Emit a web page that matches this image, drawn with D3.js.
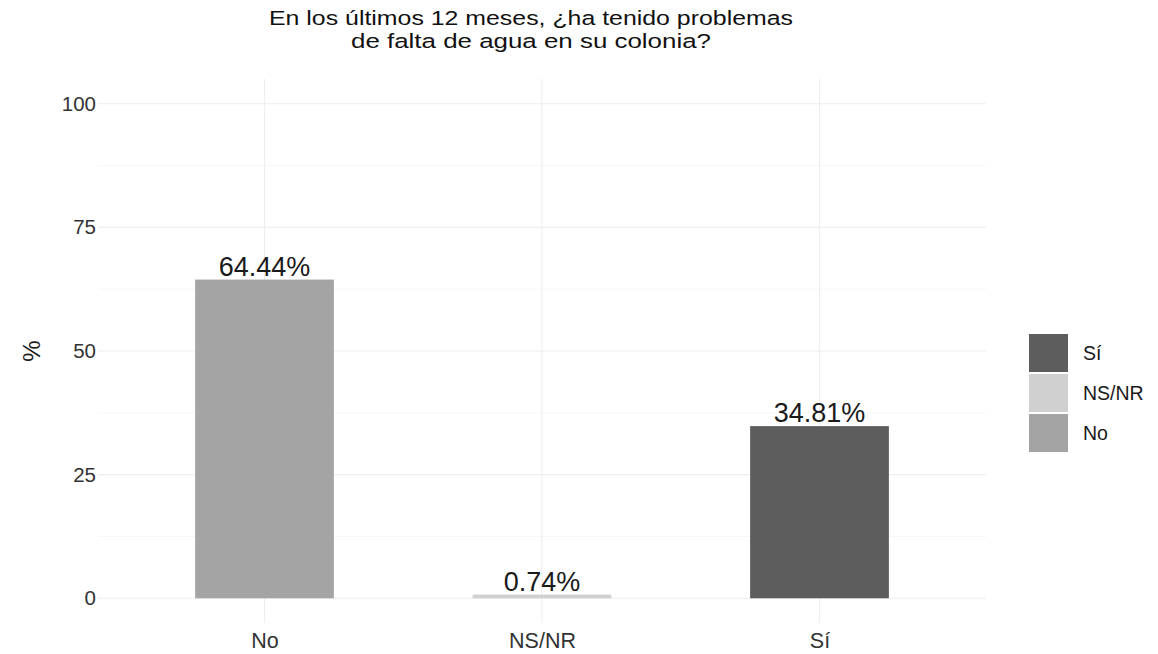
<!DOCTYPE html>
<html>
<head>
<meta charset="utf-8">
<script src="https://cdn.jsdelivr.net/npm/d3@7"></script>
<style>
  body { margin: 0; background: #fff; }
  text { font-family: "Liberation Sans", Arial, sans-serif; }
</style>
</head>
<body>
<svg id="chart" width="1158" height="654"></svg>
<script>
const categories = ["No", "NS/NR", "Sí"];
const values = [64.44, 0.74, 34.81];
const valueLabels = ["64.44%", "0.74%", "34.81%"];
const yTicks = [0, 25, 50, 75, 100];
const yMinorTicks = [12.5, 37.5, 62.5, 87.5];
const legendOrder = ["Sí", "NS/NR", "No"];
const colors = { "No": "#a4a4a4", "NS/NR": "#d0d0d0", "Sí": "#5d5d5d" };
const titleLines = ["En los últimos 12 meses, ¿ha tenido problemas", "de falta de agua en su colonia?"];

const svg = d3.select("#chart");
const panel = { left: 98, right: 986, top: 79, bottom: 623 };

const x = d3.scaleLinear().domain([0.4, 3.6]).range([panel.left, panel.right]);
const y = d3.scaleLinear().domain([-5, 105]).range([panel.bottom, panel.top]);
const barW = x(1.5) - x(1);

const g = svg.append("g");

// minor gridlines
g.selectAll(".minor").data(yMinorTicks).enter().append("line")
  .attr("x1", panel.left).attr("x2", panel.right)
  .attr("y1", d => y(d)).attr("y2", d => y(d))
  .attr("stroke", "#f6f6f6").attr("stroke-width", 1);
// major gridlines
g.selectAll(".major").data(yTicks).enter().append("line")
  .attr("x1", panel.left).attr("x2", panel.right)
  .attr("y1", d => y(d)).attr("y2", d => y(d))
  .attr("stroke", "#eeeeee").attr("stroke-width", 1.2);
g.selectAll(".vgrid").data(categories).enter().append("line")
  .attr("x1", (d, i) => x(i + 1)).attr("x2", (d, i) => x(i + 1))
  .attr("y1", panel.top).attr("y2", panel.bottom)
  .attr("stroke", "#eeeeee").attr("stroke-width", 1.2);

// bars
g.selectAll(".bar").data(categories).enter().append("rect")
  .attr("x", (d, i) => x(i + 1) - barW / 2)
  .attr("width", barW)
  .attr("y", (d, i) => y(values[i]))
  .attr("height", (d, i) => y(0) - y(values[i]))
  .attr("fill", d => colors[d]);

// value labels
g.selectAll(".vlab").data(categories).enter().append("text")
  .attr("x", (d, i) => x(i + 1))
  .attr("y", (d, i) => y(values[i]) - 4)
  .attr("text-anchor", "middle")
  .attr("font-size", 27)
  .attr("fill", "#1a1a1a")
  .text((d, i) => valueLabels[i]);

// y axis
const yAxis = d3.axisLeft(y).tickValues(yTicks).tickSize(0).tickPadding(0);
const ya = svg.append("g").attr("transform", `translate(${panel.left - 2},0)`).call(yAxis);
ya.select(".domain").remove();
ya.selectAll("text").attr("font-size", 20.5).attr("fill", "#333333")
  .style("font-family", "Liberation Sans, Arial, sans-serif");

// x axis
const xAxis = d3.axisBottom(x).tickValues([1, 2, 3]).tickFormat((d) => categories[d - 1]).tickSize(0).tickPadding(0);
const xa = svg.append("g").attr("transform", `translate(0,${panel.bottom + 10})`).call(xAxis);
xa.select(".domain").remove();
xa.selectAll("text").attr("font-size", 21.5).attr("fill", "#333333")
  .style("font-family", "Liberation Sans, Arial, sans-serif");

// y axis title
svg.append("text")
  .attr("transform", `translate(40,${y(50)}) rotate(-90)`)
  .attr("text-anchor", "middle")
  .attr("font-size", 24)
  .attr("fill", "#1a1a1a")
  .text("%");

// title
const titleWidths = [524, 360];
svg.selectAll(".title").data(titleLines).enter().append("text")
  .attr("x", 531)
  .attr("y", (d, i) => 25 + i * 23)
  .attr("text-anchor", "middle")
  .attr("font-size", 20.5)
  .attr("textLength", (d, i) => titleWidths[i])
  .attr("lengthAdjust", "spacingAndGlyphs")
  .attr("fill", "#111111")
  .text(d => d);

// legend
const lg = svg.append("g").attr("transform", "translate(1029,334)");
const items = lg.selectAll(".li").data(legendOrder).enter().append("g")
  .attr("transform", (d, i) => `translate(0,${i * 40})`);
items.append("rect").attr("width", 39).attr("height", 38).attr("fill", d => colors[d]);
items.append("text").attr("x", 54).attr("y", 19).attr("dy", "0.35em")
  .attr("font-size", 19.5).attr("fill", "#1a1a1a").text(d => d);
</script>
</body>
</html>
